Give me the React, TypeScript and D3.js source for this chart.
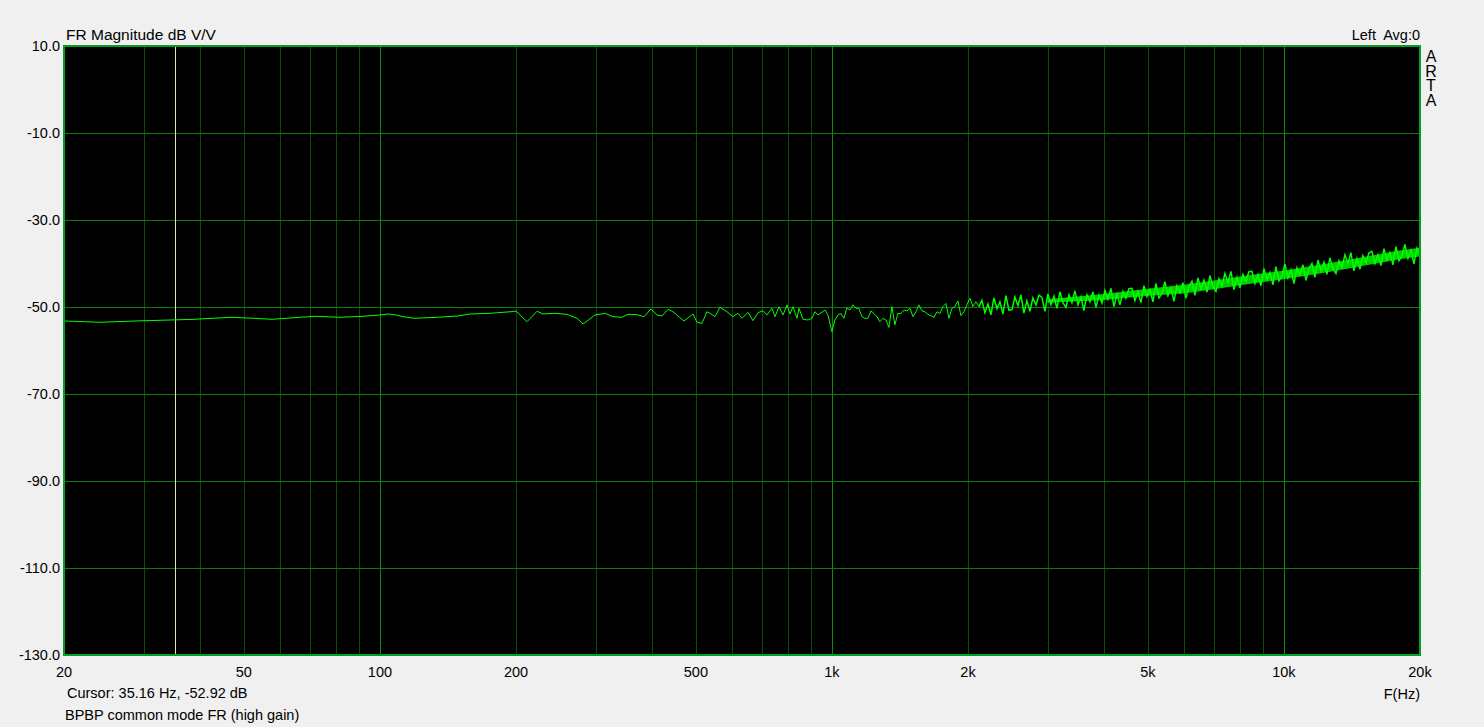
import React from "react";
import * as d3 from "d3";

// ---- data ----
const yTickValues = [10, -10, -30, -50, -70, -90, -110, -130];
const xTickValues = [20, 50, 100, 200, 500, 1000, 2000, 5000, 10000, 20000];
const xTickLabels = ["20", "50", "100", "200", "500", "1k", "2k", "5k", "10k", "20k"];
const majorGridHz = [100, 1000, 10000];
const minorGridHz = [30, 40, 50, 60, 70, 80, 90, 200, 300, 400, 500, 600, 700, 800, 900,
  2000, 3000, 4000, 5000, 6000, 7000, 8000, 9000];
const cursorHz = 35.16;

const lowFreq = [20, 22.1, 24.0, 28.7, 34.3, 38.8, 42.5, 47.1, 52.7, 57.7,
  62.0, 66.2, 72.2, 81.6, 91.7, 99.5, 104.7, 108.5, 112.5, 119.0,
  133.7, 148.8, 158.2, 175.2, 195.0, 200, 211.5, 222.6, 229.5, 244.0,
  259.3, 272.9, 281.4, 299.1, 314.7, 327.8, 343.2, 353.8, 370.4, 383.8,
  397.8, 410.1, 420.7, 433.8, 444.9, 470.6, 492.7, 502.8, 515.8, 529.1,
  537.2, 551.1, 565.3, 585.8, 604.0, 619.5, 632.5, 652.1, 668.9, 686.1,
  703.8, 718.3, 736.8, 748.2, 763.6, 779.3, 795.3, 807.6, 820.0, 836.9,
  845.5, 862.9, 885.2, 903.4, 917.3, 931.5, 965.2, 980.1];
const lowDb = [-53.22, -53.36, -53.52, -53.22, -52.99, -52.83, -52.60, -52.37, -52.60, -52.83,
  -52.60, -52.37, -52.14, -52.37, -52.14, -51.84, -51.61, -51.84, -52.23, -52.60,
  -52.37, -52.07, -51.61, -51.45, -51.08, -50.92, -53.38, -50.99, -51.61, -51.45,
  -51.68, -52.60, -53.91, -51.84, -51.45, -52.23, -52.37, -51.68, -51.77, -52.23,
  -50.46, -51.84, -52.07, -50.53, -51.08, -53.22, -51.61, -53.52, -53.75, -51.08,
  -51.45, -52.23, -50.07, -51.08, -52.23, -51.45, -52.60, -51.22, -53.15, -51.31,
  -50.85, -51.84, -50.30, -52.23, -49.93, -51.84, -49.54, -51.61, -49.93, -52.60,
  -50.30, -52.83, -52.99, -52.60, -51.08, -51.84, -50.69, -51.84];

const midFreq = [1000, 1015, 1031, 1047, 1063, 1079, 1096, 1113, 1130, 1147,
  1165, 1183, 1201, 1220, 1238, 1258, 1277, 1297, 1317, 1337,
  1357, 1378, 1399, 1421, 1443, 1465, 1488, 1511, 1534, 1557,
  1582, 1606, 1631, 1656, 1681, 1707, 1734, 1760, 1787, 1815,
  1843, 1871, 1900, 1929, 1959, 1989, 2020, 2051, 2082, 2115];
const midDb = [-55.7, -53.0, -51.8, -51.5, -52.6, -50.2, -50.7, -49.5, -50.3, -50.3,
  -52.2, -52.6, -52.6, -50.9, -51.5, -52.2, -53.4, -52.6, -53.0, -54.7,
  -49.9, -54.1, -51.5, -51.5, -50.7, -50.9, -50.3, -52.2, -51.1, -49.5,
  -50.9, -51.1, -51.7, -52.0, -52.4, -51.1, -51.5, -49.9, -49.2, -52.6,
  -50.3, -49.9, -48.6, -52.0, -51.1, -49.5, -48.0, -49.9, -48.8, -49.9];

const highFreq = [2115, 2147, 2180, 2214, 2248, 2282, 2318, 2353, 2390, 2426, 2464,
  2502, 2540, 2579, 2619, 2659, 2700, 2742, 2784, 2827, 2871,
  2915, 2960, 3005, 3052, 3099, 3146, 3195, 3244, 3294, 3345,
  3396, 3448, 3502, 3555, 3610, 3666, 3722, 3780, 3838, 3897,
  3957, 4018, 4080, 4143, 4206, 4271, 4337, 4404, 4471, 4540,
  4610, 4681, 4753, 4826, 4901, 4976, 5053, 5131, 5210, 5290,
  5372, 5454, 5538, 5623, 5710, 5798, 5887, 5978, 6070, 6164,
  6259, 6355, 6453, 6552, 6653, 6756, 6860, 6965, 7072, 7181,
  7292, 7404, 7518, 7634, 7752, 7871, 7992, 8115, 8240, 8367,
  8496, 8627, 8760, 8894, 9031, 9171, 9312, 9455, 9601, 9749,
  9899, 10051, 10206, 10363, 10523, 10685, 10849, 11016, 11186, 11358,
  11533, 11711, 11891, 12074, 12260, 12449, 12641, 12835, 13033, 13234,
  13438, 13645, 13855, 14068, 14285, 14505, 14729, 14955, 15186, 15419,
  15657, 15898, 16143, 16391, 16644, 16900, 17161, 17425, 17693, 17966,
  18242, 18523, 18808, 19098, 19392, 19691, 20000];
const highDb = [-49.9, -48.5, -51.3, -49.3, -51.8, -47.9, -50.4, -48.8, -51.6, -47.4, -50.7,
  -50.6, -47.7, -49.7, -47.2, -51.4, -48.6, -51.0, -47.9, -49.5, -47.3,
  -47.8, -51.0, -47.0, -49.5, -47.5, -50.3, -46.5, -49.0, -50.1, -47.2,
  -49.0, -46.3, -49.5, -47.7, -50.8, -47.2, -48.8, -46.5, -50.1, -47.3,
  -49.1, -46.2, -48.2, -45.7, -49.9, -47.1, -49.5, -46.4, -48.0, -45.8,
  -45.7, -48.5, -46.5, -49.0, -45.1, -47.6, -46.0, -48.8, -44.6, -47.9,
  -46.9, -44.2, -47.4, -45.6, -48.7, -45.1, -46.7, -44.4, -48.0, -45.2,
  -44.1, -47.3, -43.3, -45.8, -43.8, -46.6, -42.8, -45.3, -46.4, -43.5,
  -45.2, -42.3, -44.3, -41.8, -46.0, -43.2, -45.6, -42.5, -44.1, -41.9,
  -41.8, -44.6, -42.6, -45.1, -41.2, -43.7, -42.1, -44.9, -40.7, -44.0,
  -42.8, -40.1, -43.3, -41.5, -44.6, -41.0, -42.6, -40.3, -43.9, -41.1,
  -40.0, -43.2, -39.2, -41.7, -39.7, -42.5, -38.7, -41.2, -42.3, -39.4,
  -40.9, -38.0, -40.0, -37.5, -41.7, -38.9, -41.3, -38.2, -39.8, -37.6,
  -37.2, -40.0, -38.0, -40.5, -36.6, -39.1, -37.5, -40.3, -36.1, -39.4,
  -38.3, -35.6, -38.8, -37.0, -40.1, -36.5, -38.1];

const bandFreq = [3000, 4000, 5000, 6000, 7000, 8000, 10000, 12000, 14000, 16000, 18000, 20000];
const bandHiDb = [-48.2, -47.0, -45.8, -44.9, -43.9, -43.0, -41.6, -40.3, -39.1, -38.0, -37.0, -36.4];
const bandLoDb = [-49.0, -48.4, -47.4, -46.9, -45.9, -45.0, -43.6, -42.3, -41.1, -40.0, -39.0, -38.4];

// ---- layout ----
const W = 1484;
const H = 727;
const L = 64, R = 1420, T = 46, B = 655;
const FONT = "'Liberation Sans', Arial, sans-serif";

export default function App() {
  const x = d3.scaleLog().domain([20, 20000]).range([L, R]);
  const y = d3.scaleLinear().domain([10, -130]).range([T, B]);

  const zipPts = (fs: number[], vs: number[]) => {
    const n = Math.min(fs.length, vs.length);
    const out: [number, number][] = [];
    for (let i = 0; i < n; i++) out.push([fs[i], vs[i]]);
    return out;
  };
  const lowerPts = zipPts([...lowFreq, ...midFreq], [...lowDb, ...midDb]);
  const upperPts = zipPts(highFreq, highDb);

  const line = d3.line<[number, number]>().x(d => x(d[0])).y(d => y(d[1]));
  const bandPts = bandFreq.map((f, i) => ({ f, lo: bandLoDb[i], hi: bandHiDb[i] }));
  const area = d3.area<{ f: number; lo: number; hi: number }>()
    .x(d => x(d.f)).y0(d => y(d.lo)).y1(d => y(d.hi));

  const px = (v: number) => Math.round(v) + 0.5;

  return (
    <svg width={W} height={H} style={{ position: "absolute", left: 0, top: 0, display: "block" }}
      fontFamily={FONT}>
      <rect x={0} y={0} width={W} height={H} fill="#f0f0f0" />
      <rect x={L} y={T} width={R - L} height={B - T} fill="#000" />
      <defs>
        <clipPath id="plotclip"><rect x={L} y={T} width={R - L} height={B - T} /></clipPath>
      </defs>
      {minorGridHz.map(f => (
        <line key={"mi" + f} x1={px(x(f))} x2={px(x(f))} y1={T} y2={B}
          stroke="#0b4d0b" strokeWidth={1} shapeRendering="crispEdges" />
      ))}
      {majorGridHz.map(f => (
        <line key={"ma" + f} x1={px(x(f))} x2={px(x(f))} y1={T} y2={B}
          stroke="#0f8a0f" strokeWidth={1} shapeRendering="crispEdges" />
      ))}
      {yTickValues.map(v => (
        <line key={"h" + v} x1={L} x2={R} y1={px(y(v))} y2={px(y(v))}
          stroke="#0f7a0f" strokeWidth={1} shapeRendering="crispEdges" />
      ))}
      <line x1={px(x(cursorHz))} x2={px(x(cursorHz))} y1={T} y2={B}
        stroke="#e6e6a0" strokeWidth={1} shapeRendering="crispEdges" />
      <g clipPath="url(#plotclip)">
        <path d={area(bandPts) || ""} fill="#00ff00" opacity={0.8} />
        <path d={line(lowerPts) || ""} fill="none" stroke="#00ff00" strokeWidth={1} />
        <path d={line(upperPts) || ""} fill="none" stroke="#00ff00" strokeWidth={1.5} />
      </g>
      <rect x={L} y={T} width={R - L} height={B - T} fill="none" stroke="#00a020" strokeWidth={2}
        shapeRendering="crispEdges" />
      {yTickValues.map(v => (
        <text key={"yl" + v} x={60} y={y(v) + 5} textAnchor="end" fontSize={14.5} fill="#000">
          {v.toFixed(1)}
        </text>
      ))}
      {xTickValues.map((f, i) => (
        <text key={"xl" + f} x={x(f)} y={677} textAnchor="middle" fontSize={14.5} fill="#000">
          {xTickLabels[i]}
        </text>
      ))}
      <text x={66} y={40} fontSize={15.5} fill="#000">FR Magnitude dB V/V</text>
      <text x={1420} y={40} fontSize={14.5} textAnchor="end" fill="#000" xmlSpace="preserve">Left  Avg:0</text>
      <text x={1431} y={48} fontSize={16} fill="#000" letterSpacing={-2.3}
        style={{ writingMode: "vertical-rl", textOrientation: "upright" } as React.CSSProperties}>ARTA</text>
      <text x={1420} y={699} fontSize={14.5} textAnchor="end" fill="#000">F(Hz)</text>
      <text x={67} y={698} fontSize={14.5} fill="#000">Cursor: 35.16 Hz, -52.92 dB</text>
      <text x={65} y={720} fontSize={14.5} fill="#000">BPBP common mode FR (high gain)</text>
    </svg>
  );
}
